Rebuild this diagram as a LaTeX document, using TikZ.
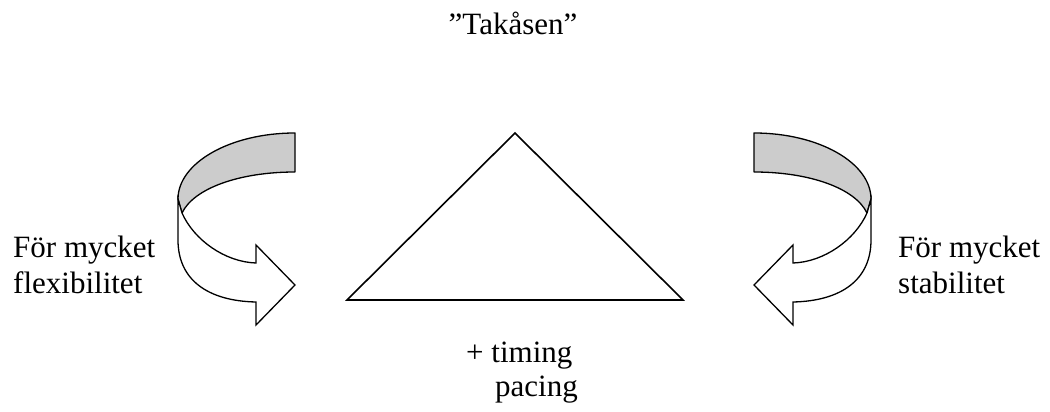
\documentclass[tikz,border=0pt]{standalone}
\usepackage{fontspec}
\setmainfont{Liberation Serif}
\definecolor{backgrey}{gray}{0.8}
\tikzset{
  band/.style={draw, line width=1.3pt, line join=round, fill=backgrey},
  front/.style={draw, line width=1.3pt, line join=miter, fill=white},
  roof/.style={draw, line width=1.6pt, line join=miter},
  label/.style={anchor=base west, inner sep=0pt}
}
\begin{document}
\begin{tikzpicture}[x=1pt, y=-1pt, font=\fontsize{31}{36}\selectfont]
\useasboundingbox (0,0) rectangle (1050,412);

% title
\node[anchor=base, inner sep=0pt] (title) at (513,35) {”Takåsen”};

% the roof
\coordinate (apex) at (515,133);
\coordinate (eaveL) at (347,300);
\coordinate (eaveR) at (683,300);
\draw[roof] (apex) -- (eaveR) -- (eaveL) -- cycle;

% curved arrows, right one mirrored
\foreach \sx/\dx in {1/0, -1/1049} {
  \begin{scope}[xshift=\dx pt, xscale=\sx]
    % back of the band
    \path[band] (295,133) .. controls (230,133) and (178,163) .. (178,199)
      -- (182,213) .. controls (194,188) and (240,172) .. (295,172) -- cycle;
    % front of the band with head
    \path[front] (182,213) .. controls (194,240) and (225,262) .. (256,263)
      -- (256,245) -- (295,285) -- (256,325) -- (256,302)
      .. controls (208,301) and (178,280) .. (178,240) -- (178,199) -- cycle;
  \end{scope}
}

% texts
\node[label] (flex1) at (13,257) {För mycket};
\node[label] (flex2) at (13,293) {flexibilitet};
\node[label] (stab1) at (898,257) {För mycket};
\node[label] (stab2) at (898,293) {stabilitet};
\node[label] (timing) at (466,362) {+ timing};
\node[label] (pacing) at (495,396) {pacing};
\end{tikzpicture}
\end{document}
